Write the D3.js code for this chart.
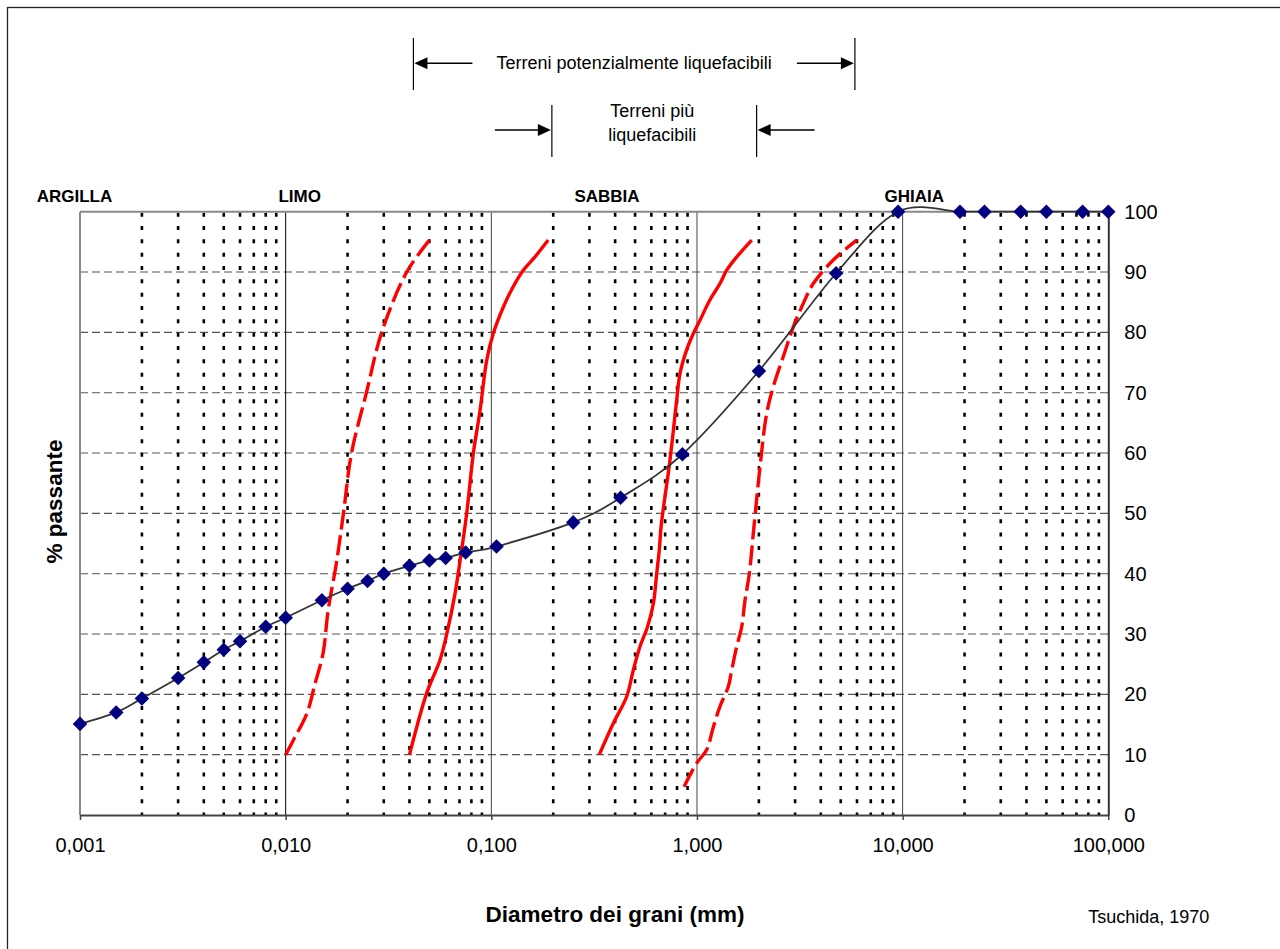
<!DOCTYPE html>
<html><head><meta charset="utf-8">
<script src="https://cdn.jsdelivr.net/npm/d3@7"></script>
<style>
body{margin:0;background:#fff}
svg{display:block;font-family:Arial,"Liberation Sans",sans-serif}
</style>
</head><body>
<svg id="c" width="1280" height="949"></svg>
<script>
// ---- DATA ----
const sampleDiameters = [0.001,0.0015,0.002,0.003,0.004,0.005,0.006,0.008,0.010,0.015,0.020,0.025,0.030,0.040,0.050,0.060,0.075,0.106,0.250,0.425,0.850,2.0,4.75,9.5,19,25,37.5,50,75,100];
const samplePassing   = [15.1,17.0,19.3,22.7,25.3,27.4,28.8,31.2,32.7,35.6,37.5,38.8,40.0,41.3,42.2,42.6,43.5,44.5,48.5,52.6,59.8,73.6,89.8,100,100,100,100,100,100,100];

// Tsuchida bounds [diameter mm, % passing]
const outerLeftBound  = [[0.0100,10],[0.0109,12.4],[0.0127,16.9],[0.0139,21.8],[0.0152,26.8],[0.0161,34],[0.0176,41.5],[0.0191,50],[0.0209,60],[0.0247,70],[0.0293,80],[0.0388,90],[0.050,95.3]];
const innerLeftBound  = [[0.040,10],[0.0485,20.2],[0.0563,25.7],[0.0607,30],[0.0666,36.7],[0.0704,42],[0.0759,50],[0.0818,60],[0.0881,67],[0.0950,75.4],[0.1022,79.8],[0.1144,84.2],[0.1279,87.6],[0.143,90.3],[0.163,92.5],[0.189,95.3]];
const innerRightBound = [[0.335,10],[0.392,15.2],[0.455,19.6],[0.490,24],[0.528,27.9],[0.575,31.2],[0.614,35.1],[0.637,40],[0.656,44],[0.670,48],[0.739,58.8],[0.797,68.8],[0.827,73.2],[0.891,77.1],[0.960,79.8],[1.034,82],[1.157,85.4],[1.294,88.1],[1.395,90.3],[1.560,92.5],[1.846,95.3]];
const outerRightBound = [[0.865,4.7],[0.997,8.6],[1.115,10.8],[1.201,14.6],[1.294,18],[1.420,21.3],[1.475,24],[1.560,27.9],[1.650,31.2],[1.712,35.6],[1.797,40],[1.879,46.7],[2.025,57.7],[2.183,66.6],[2.350,71],[2.629,76],[2.940,80.9],[3.289,84.8],[3.678,88.1],[4.60,92],[5.98,95.3]];

const xTickValues = [0.001,0.01,0.1,1,10,100];
const xTickLabels = ["0,001","0,010","0,100","1,000","10,000","100,000"];
const yTickValues = [0,10,20,30,40,50,60,70,80,90,100];
const yTickLabels = ["0","10","20","30","40","50","60","70","80","90","100"];

const zoneNames   = ["ARGILLA","LIMO","SABBIA","GHIAIA"];
const zoneCenters = [0.00094,0.0117,0.365,11.4];   // mm

const potentialRange = [0.0418,5.86];  // mm
const mostRange      = [0.197,1.95];   // mm

// ---- LAYOUT ----
const plot = {left:80, right:1108.3, top:211.7, bottom:815};
const x = d3.scaleLog().domain([0.001,100]).range([plot.left,plot.right]);
const y = d3.scaleLinear().domain([0,100]).range([plot.bottom,plot.top]);
const svg = d3.select("#c");

// outer chart frame
svg.append("rect").attr("x",7.5).attr("y",7.5).attr("width",1300).attr("height",1000)
  .attr("fill","#fff").attr("stroke","#222").attr("stroke-width",1.3);

// horizontal dashed gridlines
svg.append("g").selectAll("line").data(yTickValues.filter(v=>v>0&&v<100)).join("line")
  .attr("x1",plot.left).attr("x2",plot.right)
  .attr("y1",d=>y(d)).attr("y2",d=>y(d))
  .attr("stroke","#555").attr("stroke-width",1.1).attr("stroke-dasharray","8,4");

// minor vertical dotted lines
const minors = [];
for (let e=-3;e<2;e++){ for(let k=2;k<=9;k++){ minors.push(k*Math.pow(10,e)); } }
svg.append("g").selectAll("line").data(minors).join("line")
  .attr("x1",d=>x(d)).attr("x2",d=>x(d))
  .attr("y1",plot.top+1).attr("y2",plot.bottom)
  .attr("stroke","#000").attr("stroke-width",2.6).attr("stroke-dasharray","4,9.33");

// major vertical lines
svg.append("g").selectAll("line").data([0.01,0.1,1,10]).join("line")
  .attr("x1",d=>x(d)).attr("x2",d=>x(d))
  .attr("y1",plot.top).attr("y2",plot.bottom)
  .attr("stroke",(d)=>d===0.01?"#000":"#444").attr("stroke-width",1);

// plot border (left & top gray)
svg.append("line").attr("x1",plot.left).attr("x2",plot.left).attr("y1",plot.top).attr("y2",plot.bottom)
  .attr("stroke","#888").attr("stroke-width",2);
svg.append("line").attr("x1",plot.left).attr("x2",plot.right).attr("y1",plot.top).attr("y2",plot.top)
  .attr("stroke","#888").attr("stroke-width",2);

// red bounds
const redLine = d3.line().x(d=>x(d[0])).y(d=>y(d[1])).curve(d3.curveCatmullRom);
[[outerLeftBound,true],[innerLeftBound,false],[innerRightBound,false],[outerRightBound,true]].forEach(([data,dashed])=>{
  svg.append("path").attr("d",redLine(data)).attr("fill","none")
    .attr("stroke","#ff0000").attr("stroke-width",3.4)
    .attr("stroke-dasharray",dashed?"20,6":null);
});

// sample curve
const samples = sampleDiameters.map((d,i)=>[d,samplePassing[i]]);
const blackLine = d3.line().x(d=>x(d[0])).y(d=>y(d[1])).curve(d3.curveCardinal.tension(0));
svg.append("path").attr("d",blackLine(samples)).attr("fill","none")
  .attr("stroke","#333").attr("stroke-width",1.8);

// axes
const xAxis = d3.axisBottom(x).tickValues(xTickValues).tickFormat((d,i)=>xTickLabels[i])
  .tickSizeInner(5).tickSizeOuter(0).tickPadding(18);
const gx = svg.append("g").attr("transform",`translate(0,${plot.bottom})`).call(xAxis);
gx.select(".domain").attr("stroke","#444").attr("stroke-width",2);
gx.selectAll(".tick line").attr("stroke","#444").attr("stroke-width",1.5);
gx.selectAll("text").attr("font-size",20).attr("fill","#000").attr("font-family",'Arial,"Liberation Sans",sans-serif');

const yAxis = d3.axisRight(y).tickValues(yTickValues).tickFormat((d,i)=>yTickLabels[i])
  .tickSize(0).tickPadding(16);
const gy = svg.append("g").attr("transform",`translate(${plot.right},0)`).call(yAxis);
gy.select(".domain").attr("stroke","#333").attr("stroke-width",2);
gy.selectAll("text").attr("font-size",20).attr("fill","#000").attr("font-family",'Arial,"Liberation Sans",sans-serif');

// diamonds
svg.append("g").selectAll("path").data(samples).join("path")
  .attr("d",d3.symbol(d3.symbolSquare,106)())
  .attr("transform",d=>`translate(${x(d[0])},${y(d[1])}) rotate(45)`)
  .attr("fill","#000080");

// zone labels
svg.append("g").selectAll("text").data(zoneNames).join("text")
  .attr("x",(d,i)=>x(zoneCenters[i])).attr("y",202)
  .attr("text-anchor","middle").attr("font-weight","bold").attr("font-size",17)
  .text(d=>d);

// annotations
function arrow(g, tipX, tailX, yy){
  const dir = Math.sign(tailX-tipX);
  g.append("line").attr("x1",tailX).attr("x2",tipX+dir*10).attr("y1",yy).attr("y2",yy)
    .attr("stroke","#000").attr("stroke-width",1.4);
  g.append("path").attr("d",`M${tipX},${yy} L${tipX+dir*13},${yy-6} L${tipX+dir*13},${yy+6} Z`).attr("fill","#000");
}
const ann = svg.append("g");
const p0 = x(potentialRange[0]), p1 = x(potentialRange[1]);
[p0,p1].forEach(px=>ann.append("line").attr("x1",px).attr("x2",px).attr("y1",38).attr("y2",90).attr("stroke","#000").attr("stroke-width",1.2));
arrow(ann,p0+1,p0+59,63.3);
arrow(ann,p1-1,p1-58,63.3);
ann.append("text").attr("x",(p0+p1)/2).attr("y",68.5).attr("text-anchor","middle").attr("font-size",18)
  .text("Terreni potenzialmente liquefacibili");

const m0 = x(mostRange[0]), m1 = x(mostRange[1]);
[m0,m1].forEach(px=>ann.append("line").attr("x1",px).attr("x2",px).attr("y1",105).attr("y2",157).attr("stroke","#000").attr("stroke-width",1.2));
arrow(ann,m0-1,m0-57,130);
arrow(ann,m1+1,m1+58,130);
ann.append("text").attr("x",(m0+m1)/2-2).attr("y",116.5).attr("text-anchor","middle").attr("font-size",18).text("Terreni più");
ann.append("text").attr("x",(m0+m1)/2-2).attr("y",140.5).attr("text-anchor","middle").attr("font-size",18).text("liquefacibili");

// axis titles
svg.append("text").attr("x",615).attr("y",921.7).attr("text-anchor","middle")
  .attr("font-weight","bold").attr("font-size",22.5).text("Diametro dei grani (mm)");
svg.append("text").attr("transform","translate(61.5,501.5) rotate(-90)").attr("text-anchor","middle")
  .attr("font-weight","bold").attr("font-size",22.5).text("% passante");
svg.append("text").attr("x",1088.3).attr("y",923.3).attr("font-size",18).text("Tsuchida, 1970");
</script>
</body></html>
